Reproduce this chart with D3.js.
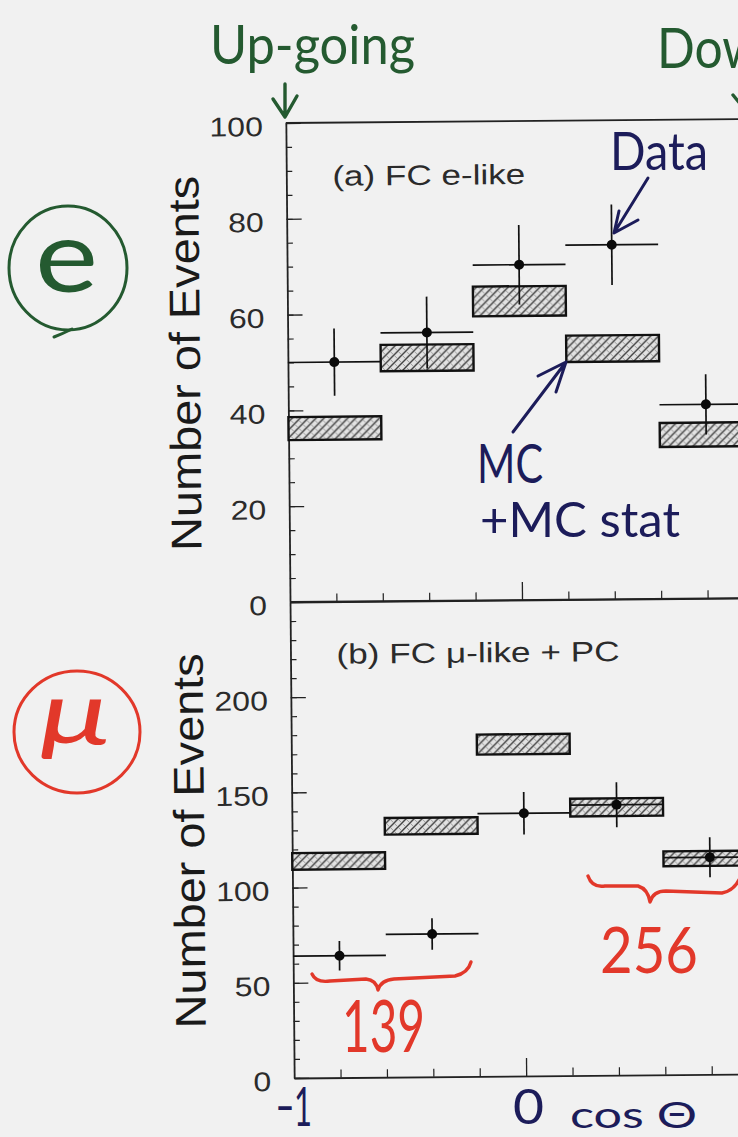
<!DOCTYPE html>
<html>
<head>
<meta charset="utf-8">
<script src="https://cdn.jsdelivr.net/npm/d3@7"></script>
<style>
  html, body { margin: 0; padding: 0; background: #f1f1f1; }
  svg { display: block; }
</style>
</head>
<body>
<svg id="chart" width="738" height="1137"></svg>
<script>
// Zenith-angle bins in cos(theta), five bins of width 0.4
const binEdges = [-1, -0.6, -0.2, 0.2, 0.6, 1];

// (a) FC e-like
const eData   = [50, 56, 70, 74, 40.5];
const eErr    = [7, 7.5, 8.3, 8.4, 6.3];
const eMcLow  = [33.8, 48.0, 59.3, 49.6, 31.7];
const eMcHigh = [38.6, 53.5, 65.5, 55.1, 36.7];
const eTicks  = [0, 20, 40, 60, 80, 100];

// (b) FC mu-like + PC
const muData   = [64, 75, 138, 142, 114];
const muErr    = [7.7, 8.3, 11.2, 11.8, 10.5];
const muMcLow  = [109.4, 127.4, 169.0, 136.1, 109.5];
const muMcHigh = [118.1, 136.1, 179.5, 145.4, 117.3];
const muTicks  = [0, 50, 100, 150, 200];

const xTicks = [-0.8, -0.6, -0.4, -0.2, 0, 0.2, 0.4, 0.6, 0.8];

const svg = d3.select("#chart");
svg.append("rect").attr("width", 738).attr("height", 1137).attr("fill", "#f1f1f1");

// ---- hatch fill for the MC boxes ----
const defs = svg.append("defs");
const pat = defs.append("pattern")
  .attr("id", "hatch").attr("patternUnits", "userSpaceOnUse")
  .attr("width", 8).attr("height", 8);
pat.append("rect").attr("width", 8).attr("height", 8).attr("fill", "#e2e2e2");
pat.append("path").attr("d", "M-1,9 L9,-1 M-3,3 L3,-3 M5,11 L11,5")
  .attr("stroke", "#3c3c3c").attr("stroke-width", 1.4);
pat.append("path").attr("d", "M0,0 L8,8 M-4,4 L4,12 M4,-4 L12,4")
  .attr("stroke", "#8a8a8a").attr("stroke-width", 0.8);

const INK = "#222";
const LABEL = "#2b2b2b";
const x = d3.scaleLinear().domain([-1, 1]).range([290, 754]);

const panels = [
  { title: "(a) FC e-like", titleLen: 193, titleY: 186,
    data: eData, err: eErr, lo: eMcLow, hi: eMcHigh,
    ticks: eTicks, minor: 5, max: 100, range: [602, 123] },
  { title: "(b) FC \u03bc-like + PC", titleLen: 283, titleY: 664,
    data: muData, err: muErr, lo: muMcLow, hi: muMcHigh,
    ticks: muTicks, minor: 10, max: 250, range: [1078, 602] }
];

// whole plot sits slightly tilted
const plot = svg.append("g").attr("transform", "rotate(-0.5, 290, 600)");

panels.forEach(p => {
  const y = d3.scaleLinear().domain([0, p.max]).range(p.range);
  const g = plot.append("g");

  // minor ticks on the left axis
  g.append("g").attr("transform", `translate(${x(-1)},0)`)
    .call(d3.axisLeft(y).tickValues(d3.range(0, p.max + 0.01, p.minor))
      .tickSizeInner(-6).tickSizeOuter(0).tickFormat(""))
    .call(a => a.select(".domain").remove())
    .call(a => a.selectAll("line").attr("stroke", INK).attr("stroke-width", 1.2));

  // major ticks + labels
  g.append("g").attr("transform", `translate(${x(-1)},0)`)
    .call(d3.axisLeft(y).tickValues(p.ticks)
      .tickSizeInner(-15).tickSizeOuter(0).tickPadding(23))
    .call(a => a.select(".domain").attr("stroke", INK).attr("stroke-width", 1.8))
    .call(a => a.selectAll("line").attr("stroke", INK).attr("stroke-width", 1.3))
    .call(a => a.selectAll("text")
      .attr("font-family", "'Liberation Sans', Arial, sans-serif")
      .attr("font-size", 27).attr("fill", LABEL).attr("dy", "0.46em")
      .attr("textLength", d => String(d).length * 17.8)
      .attr("lengthAdjust", "spacingAndGlyphs"));

  // bottom axis with inward ticks
  g.append("g").attr("transform", `translate(0,${y(0)})`)
    .call(d3.axisBottom(x).tickValues(xTicks.filter(t => t !== 0))
      .tickSizeInner(-8).tickSizeOuter(0).tickFormat(""))
    .call(a => a.select(".domain").attr("stroke", INK).attr("stroke-width", 1.8))
    .call(a => a.selectAll("line").attr("stroke", INK).attr("stroke-width", 1.2));
  g.append("g").attr("transform", `translate(0,${y(0)})`)
    .call(d3.axisBottom(x).tickValues([0]).tickSizeInner(-18).tickSizeOuter(0).tickFormat(""))
    .call(a => a.select(".domain").remove())
    .call(a => a.selectAll("line").attr("stroke", INK).attr("stroke-width", 1.3));

  // top frame line
  g.append("line")
    .attr("x1", x(-1)).attr("x2", x(1))
    .attr("y1", y(p.max)).attr("y2", y(p.max))
    .attr("stroke", INK).attr("stroke-width", 1.8);

  // panel title
  g.append("text")
    .attr("x", 336).attr("y", p.titleY)
    .attr("font-family", "'Liberation Sans', Arial, sans-serif")
    .attr("font-size", 28).attr("fill", LABEL)
    .attr("textLength", p.titleLen).attr("lengthAdjust", "spacingAndGlyphs")
    .text(p.title);

  // y-axis title
  const mid = (p.range[0] + p.range[1]) / 2;
  g.append("text")
    .attr("transform", `translate(202,${mid}) rotate(-90)`)
    .attr("text-anchor", "middle")
    .attr("font-family", "'Liberation Sans', Arial, sans-serif")
    .attr("font-size", 43).attr("fill", "#1a1a1a")
    .attr("textLength", 375).attr("lengthAdjust", "spacingAndGlyphs")
    .text("Number of Events");

  const rows = p.data.map((v, i) => ({
    x0: binEdges[i], x1: binEdges[i + 1],
    v, e: p.err[i], lo: p.lo[i], hi: p.hi[i]
  }));

  // MC expectation boxes (with MC statistical error)
  g.selectAll("rect.mc").data(rows).join("rect").attr("class", "mc")
    .attr("x", d => x(d.x0)).attr("width", d => x(d.x1) - x(d.x0))
    .attr("y", d => y(d.hi)).attr("height", d => y(d.lo) - y(d.hi))
    .attr("fill", "url(#hatch)").attr("stroke", "#111").attr("stroke-width", 2.4);

  // data: horizontal bin bar, vertical stat error, dot
  g.selectAll("line.xb").data(rows).join("line").attr("class", "xb")
    .attr("x1", d => x(d.x0)).attr("x2", d => x(d.x1))
    .attr("y1", d => y(d.v)).attr("y2", d => y(d.v))
    .attr("stroke", "#111").attr("stroke-width", 1.7);
  g.selectAll("line.yb").data(rows).join("line").attr("class", "yb")
    .attr("x1", d => x((d.x0 + d.x1) / 2)).attr("x2", d => x((d.x0 + d.x1) / 2))
    .attr("y1", d => y(d.v - d.e)).attr("y2", d => y(d.v + d.e))
    .attr("stroke", "#111").attr("stroke-width", 1.7);
  g.selectAll("circle.pt").data(rows).join("circle").attr("class", "pt")
    .attr("cx", d => x((d.x0 + d.x1) / 2)).attr("cy", d => y(d.v))
    .attr("r", 5).attr("fill", "#0a0a0a");
});

// ---- handwritten notes ----
const HAND = "Lato, 'Open Sans', 'Noto Sans', sans-serif";
const GREEN = "#245a30", NAVY = "#1c1c5a", RED = "#e2382a";
const notes = svg.append("g").attr("font-family", HAND).attr("font-weight", 400);

function note(txt, xx, yy, size, len, color) {
  notes.append("text").attr("x", xx).attr("y", yy)
    .attr("font-size", size).attr("fill", color)
    .attr("textLength", len).attr("lengthAdjust", "spacingAndGlyphs")
    .text(txt);
}
function stroke(d, color, w) {
  notes.append("path").attr("d", d).attr("fill", "none")
    .attr("stroke", color).attr("stroke-width", w || 3)
    .attr("stroke-linecap", "round").attr("stroke-linejoin", "round");
}

note("Up-going", 210, 64, 54, 205, GREEN);
stroke("M285,84 L285,116 M273,99 L285,117 L297,96", GREEN, 3.4);
note("Down-going", 657, 68, 56, 270, GREEN);
stroke("M752,86 L752,118 M733,95 L752,118 L768,96", GREEN, 3.4);

note("Data", 610, 170, 52, 98, NAVY);
stroke("M648,178 L614,233 M619,211 L614,233 L638,220", NAVY, 3);

note("MC", 477, 483, 55, 66, NAVY);
note("+MC stat", 480, 537, 48, 200, NAVY);
stroke("M513,432 L566,362 M556,392 L566,362 L538,376", NAVY, 3);

// circled e
notes.append("ellipse").attr("cx", 68).attr("cy", 268).attr("rx", 59).attr("ry", 62)
  .attr("fill", "none").attr("stroke", GREEN).attr("stroke-width", 3);
stroke("M72,329 Q62,334 54,337", GREEN);
note("e", 35, 292, 100, 63, GREEN);

// circled mu
notes.append("ellipse").attr("cx", 77).attr("cy", 732).attr("rx", 63).attr("ry", 61)
  .attr("fill", "none").attr("stroke", RED).attr("stroke-width", 3);
notes.append("text").attr("x", 40).attr("y", 744)
  .attr("font-size", 88).attr("font-style", "italic").attr("fill", RED)
  .attr("textLength", 70).attr("lengthAdjust", "spacingAndGlyphs").text("\u03bc");

// braces with up / down counts
stroke("M312,974 Q316,983 330,981 L366,979 Q376,980 378,990 Q381,980 394,979 L455,976 Q468,973 471,962", RED, 3.4);
note("139", 342, 1052, 72, 83, RED);
stroke("M588,876 Q592,888 605,886 L638,886 Q648,889 650,902 Q653,891 666,891 L722,893 Q734,891 740,878", RED, 3.4);
note("256", 600, 973, 64, 98, RED);

// axis end labels
note("\u22121", 276, 1126, 54, 36, NAVY);
note("0", 513, 1124, 48, 31, NAVY);
note("cos \u0398", 570, 1128, 36, 127, NAVY);
</script>
</body>
</html>
